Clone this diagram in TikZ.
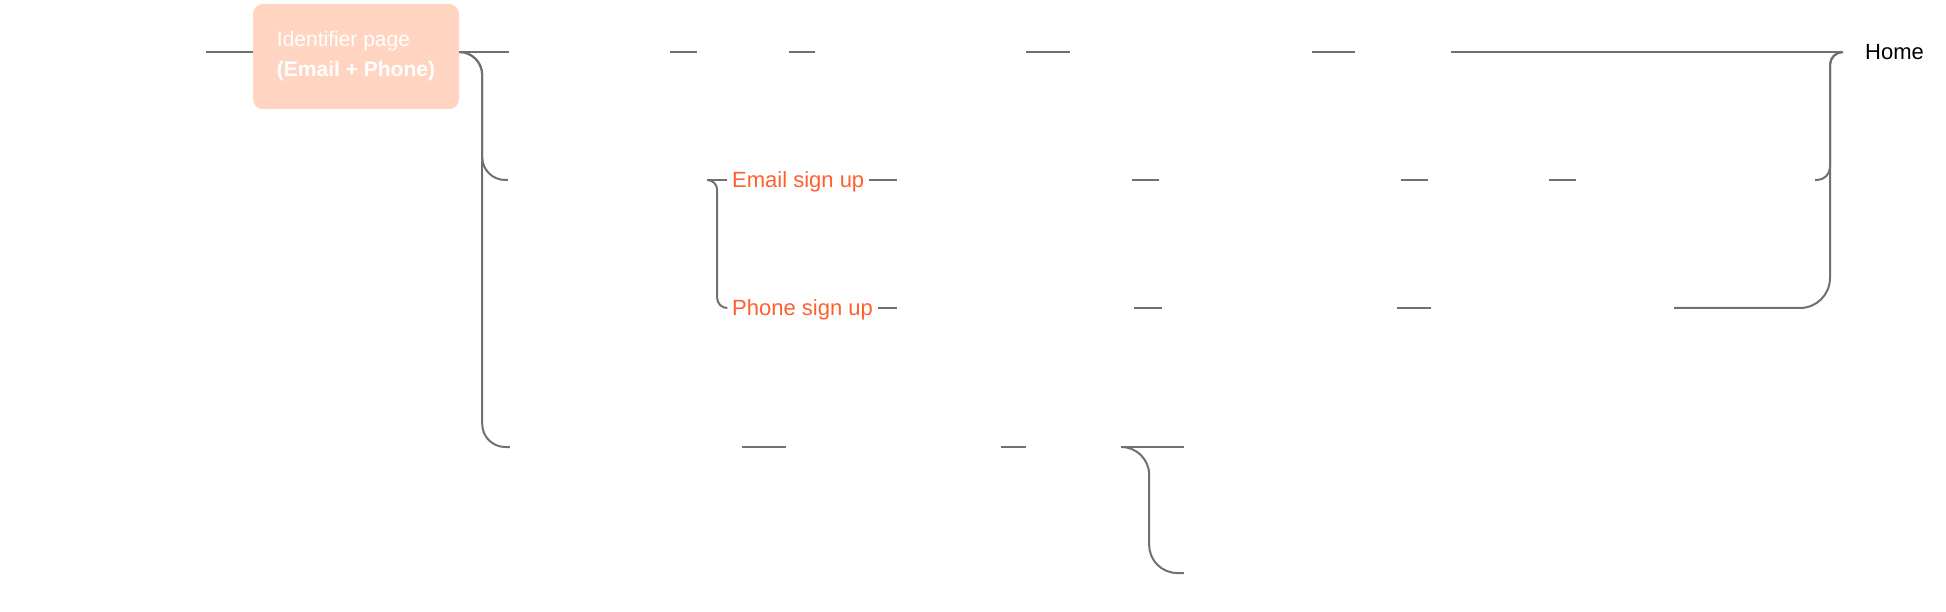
\documentclass[tikz,border=0pt]{standalone}
\usepackage{fontspec}
\setmainfont{Liberation Sans}
\definecolor{linegray}{HTML}{707070}
\definecolor{peach}{HTML}{FFD5C2}
\definecolor{signup}{HTML}{FF5F2E}
\newcommand{\ghost}[4]{\node[ghost,minimum width={(#3-#2)*1pt}] (#1) at ({(#2+#3)/2},#4) {};}

\begin{document}
\begin{tikzpicture}[x=1pt,y=-1pt,
  link/.style={draw=linegray,line width=2pt},
  ghost/.style={inner sep=0pt,minimum height=20pt},
  plainlabel/.style={anchor=west,inner ysep=0pt,text height=18pt,text depth=3pt,font=\fontsize{22}{26}\selectfont},
  signlabel/.style={plainlabel,text=signup,inner xsep=5pt}]
\useasboundingbox (0,0) rectangle (1946,612);
% start and identifier page
\ghost{start}{40}{206}{52}
\node[fill=peach,rounded corners=10pt,minimum width=206pt,minimum height=105pt,align=left,text=white,font=\fontsize{21}{30}\selectfont] (ident) at (356,56.5) {Identifier page\\\textbf{(Email + Phone)}};
\node[plainlabel,inner xsep=22pt] (home) at (1843,52) {Home};
% row 1
\ghost{r1a}{509}{670}{52}
\ghost{r1b}{697}{789}{52}
\ghost{r1c}{815}{1026}{52}
\ghost{r1d}{1070}{1312}{52}
\ghost{r1e}{1355}{1451}{52}
% row 2 and 3
\ghost{r2a}{508}{707}{180}
\node[signlabel] (email) at (727,180) {Email sign up};
\node[signlabel] (phone) at (727,308) {Phone sign up};
\ghost{r2b}{897}{1132}{180}
\ghost{r2c}{1159}{1401}{180}
\ghost{r2d}{1428}{1549}{180}
\ghost{r2e}{1576}{1815}{180}
\ghost{r3b}{897}{1134}{308}
\ghost{r3c}{1162}{1397}{308}
\ghost{r3d}{1431}{1674}{308}
% row 4
\ghost{r4a}{510}{742}{447}
\ghost{r4b}{786}{1001}{447}
\ghost{r4c}{1026}{1123}{447}
\ghost{r4d}{1184}{1300}{447}
\ghost{r4e}{1184}{1300}{573}
\coordinate (join) at ([xshift=-13pt]home.west);

\draw[link] (start.east) -- (start.east -| ident.west);
\draw[link] (ident.east |- r1a.west) -- (r1a.west);
\draw[link,rounded corners=23pt] (ident.east |- r1a.west) -- ++(23,0) |- (r2a.west);
\draw[link,rounded corners=23pt] (ident.east |- r1a.west) -- ++(23,0) |- (r4a.west);
\foreach \a/\b in {r1a/r1b,r1b/r1c,r1c/r1d,r1d/r1e,r1e/home,
  r2a/email,email/r2b,r2b/r2c,r2c/r2d,r2d/r2e,
  phone/r3b,r3b/r3c,r3c/r3d,
  r4a/r4b,r4b/r4c,r4c/r4d}
  \draw[link] (\a) -- (\b);
\draw[link,rounded corners=10pt] (r2a.east) -- ++(10,0) |- (phone.west);
\draw[link,rounded corners=28pt] (r4c.east) -- ++(26,0) |- (r4e.west);
% merge into home
\draw[link,rounded corners=13pt] (r2e.east) -| (join) -- (home.west);
\draw[link] (r3d.east) [rounded corners=30pt] -- (join |- r3d.east) [rounded corners=13pt] -- (join) -- (home.west);
\end{tikzpicture}
\end{document}
